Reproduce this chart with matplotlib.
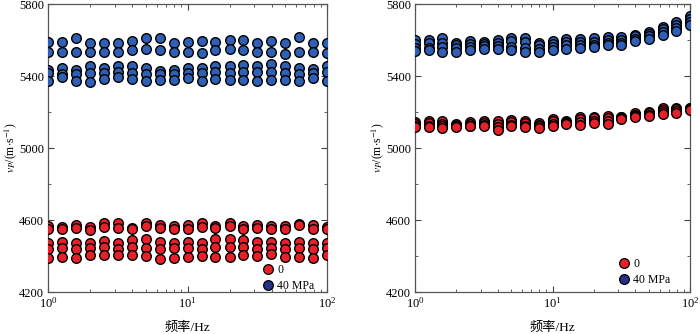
import matplotlib
matplotlib.use('Agg')
import matplotlib.pyplot as plt
from matplotlib.lines import Line2D
from matplotlib.ticker import FixedLocator, LogLocator, NullFormatter

plt.rcParams['font.family'] = ['Liberation Serif', 'Noto Sans CJK SC']
plt.rcParams['mathtext.fontset'] = 'stix'

freq = [1, 1.26, 1.58, 2, 2.51, 3.16, 3.98, 5.01, 6.31, 7.94, 10,
        12.6, 15.8, 20, 25.1, 31.6, 39.8, 50.1, 63.1, 79.4, 100]

# left panel, 0 MPa (red) and 40 MPa (blue), five repeats per frequency
left_red = [
    [4567, 4562, 4571, 4562, 4583, 4583, 4558, 4581, 4571, 4565, 4571,
     4583, 4567, 4585, 4567, 4571, 4567, 4565, 4576, 4571, 4562],
    [4552, 4550, 4558, 4545, 4560, 4558, 4550, 4566, 4556, 4548, 4552,
     4560, 4553, 4565, 4552, 4555, 4550, 4548, 4570, 4548, 4550],
    [4474, 4478, 4471, 4474, 4484, 4471, 4487, 4493, 4478, 4474, 4478,
     4471, 4493, 4493, 4489, 4478, 4478, 4474, 4478, 4474, 4474],
    [4440, 4445, 4438, 4442, 4448, 4440, 4450, 4445, 4440, 4442, 4445,
     4438, 4450, 4452, 4448, 4440, 4442, 4440, 4445, 4440, 4442],
    [4391, 4397, 4388, 4404, 4404, 4404, 4404, 4401, 4386, 4391, 4397,
     4401, 4397, 4397, 4404, 4401, 4409, 4397, 4397, 4391, 4404],
]
left_blue = [
    [5591, 5591, 5610, 5582, 5582, 5582, 5595, 5610, 5610, 5582, 5591,
     5597, 5591, 5601, 5601, 5586, 5597, 5582, 5616, 5586, 5582],
    [5536, 5536, 5531, 5531, 5536, 5531, 5546, 5551, 5546, 5531, 5536,
     5527, 5546, 5549, 5546, 5531, 5536, 5523, 5536, 5531, 5527],
    [5435, 5444, 5435, 5453, 5447, 5453, 5453, 5447, 5429, 5431, 5444,
     5447, 5453, 5453, 5459, 5457, 5468, 5453, 5444, 5438, 5457],
    [5415, 5412, 5410, 5418, 5415, 5420, 5418, 5412, 5410, 5412, 5415,
     5418, 5420, 5418, 5422, 5420, 5425, 5418, 5412, 5415, 5420],
    [5370, 5394, 5370, 5364, 5385, 5394, 5385, 5370, 5379, 5379, 5388,
     5370, 5385, 5379, 5379, 5370, 5379, 5379, 5370, 5388, 5374],
]

# right panel, four repeats per frequency
right_red = [
    [5145, 5150, 5150, 5135, 5145, 5150, 5150, 5155, 5150, 5140, 5160,
     5150, 5170, 5175, 5180, 5175, 5195, 5200, 5220, 5220, 5225],
    [5135, 5140, 5135, 5128, 5135, 5140, 5135, 5145, 5140, 5130, 5150,
     5145, 5160, 5165, 5165, 5170, 5185, 5195, 5210, 5215, 5220],
    [5125, 5125, 5120, 5120, 5125, 5130, 5115, 5130, 5125, 5120, 5135,
     5140, 5145, 5150, 5150, 5165, 5180, 5185, 5200, 5205, 5215],
    [5115, 5115, 5110, 5115, 5120, 5120, 5100, 5125, 5115, 5110, 5125,
     5135, 5130, 5140, 5135, 5160, 5170, 5180, 5190, 5195, 5210],
]
right_blue = [
    [5600, 5600, 5610, 5585, 5595, 5590, 5600, 5610, 5610, 5585, 5595,
     5605, 5605, 5610, 5615, 5615, 5630, 5645, 5670, 5700, 5735],
    [5580, 5585, 5585, 5575, 5580, 5580, 5585, 5595, 5590, 5570, 5580,
     5590, 5590, 5590, 5600, 5600, 5620, 5635, 5660, 5685, 5715],
    [5555, 5555, 5560, 5555, 5560, 5565, 5565, 5560, 5555, 5550, 5560,
     5570, 5575, 5570, 5585, 5585, 5605, 5620, 5645, 5665, 5700],
    [5540, 5545, 5535, 5535, 5545, 5550, 5550, 5545, 5535, 5535, 5545,
     5550, 5555, 5560, 5570, 5575, 5595, 5605, 5630, 5650, 5685],
]

y_major = [4200, 4600, 5000, 5400, 5800]
y_minor = [4400, 4800, 5200, 5600]
labels = ['0', '40 MPa']
red = '#e8202a'
blue = '#2f60b6'
legend_blue = '#27318c'

fig = plt.figure(figsize=(7.0, 3.34), dpi=100)
ax1 = fig.add_axes([0.0686, 0.1257, 0.3986, 0.8623])
ax2 = fig.add_axes([0.5929, 0.1257, 0.3930, 0.8623])


def draw(ax, reds, blues, leg_anchor):
    for row in blues:
        ax.scatter(freq, row, s=48, c=blue, edgecolors='black',
                   linewidths=1.0, zorder=3)
    for row in reds:
        ax.scatter(freq, row, s=48, c=red, edgecolors='black',
                   linewidths=1.0, zorder=3)

    ax.set_xscale('log')
    ax.set_xlim(1, 100)
    ax.set_ylim(4200, 5800)
    ax.yaxis.set_major_locator(FixedLocator(y_major))
    ax.yaxis.set_minor_locator(FixedLocator(y_minor))
    ax.xaxis.set_minor_locator(LogLocator(base=10, subs=range(2, 10)))
    ax.xaxis.set_minor_formatter(NullFormatter())
    ax.tick_params(which='both', direction='in', top=True, right=True,
                   labelsize=9, color='#444444', pad=3)
    ax.tick_params(which='major', length=4, width=0.8)
    ax.tick_params(which='minor', length=2, width=0.6)
    for sp in ax.spines.values():
        sp.set_color('#555555')
        sp.set_linewidth(0.9)

    ax.set_xlabel('频率/Hz', fontsize=9.5, labelpad=8)
    ax.set_ylabel('$v_P$/(m$\\cdot$s$^{-1}$)', fontsize=8.5)
    ax.yaxis.set_label_coords(-0.105, 0.5)

    handles = [
        Line2D([], [], ls='none', marker='o', ms=7, mfc=red, mec='black', mew=0.9),
        Line2D([], [], ls='none', marker='o', ms=7, mfc=legend_blue, mec='black', mew=0.9),
    ]
    ax.legend(handles, labels, loc='lower left', bbox_to_anchor=leg_anchor,
              frameon=False, fontsize=8.5, handletextpad=0.3,
              labelspacing=0.35, borderaxespad=0, handlelength=1.0)


draw(ax1, left_red, left_blue, (0.75, -0.016))
draw(ax2, right_red, right_blue, (0.72, 0.003))

fig.savefig('out.png', dpi=100)
